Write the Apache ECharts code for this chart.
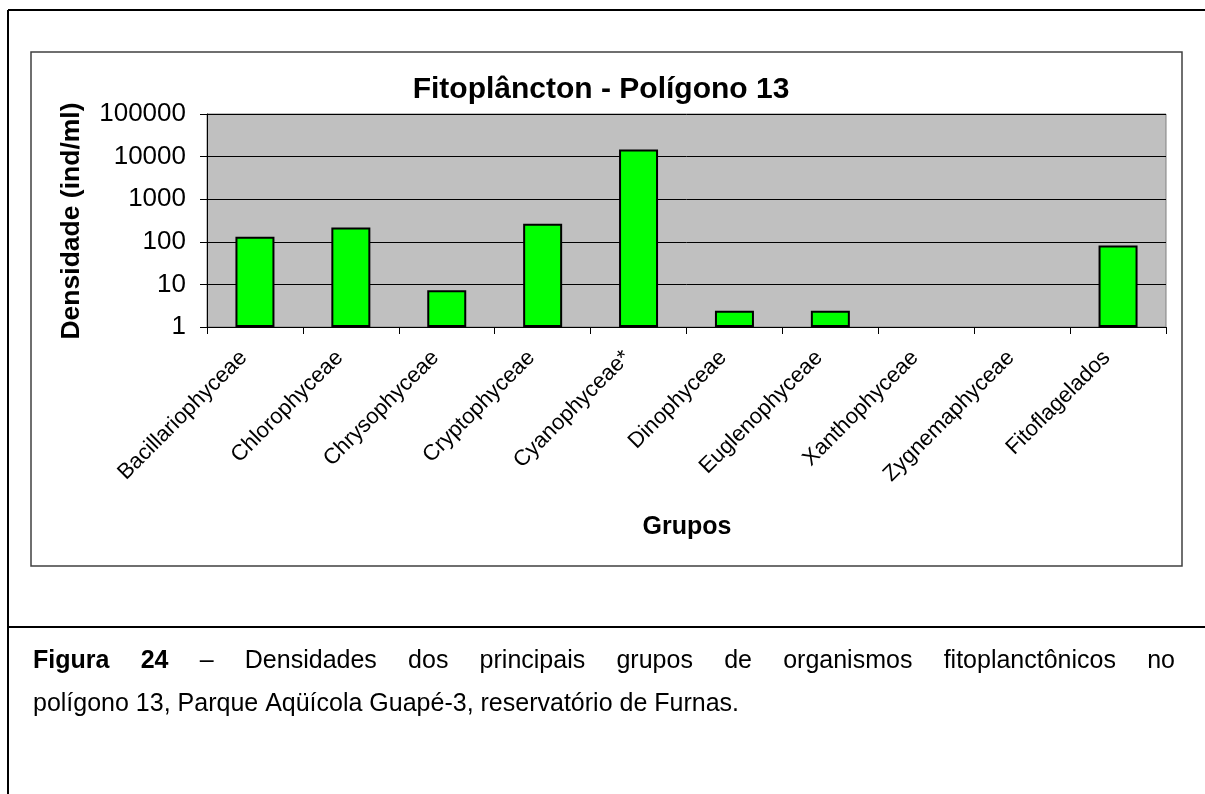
<!DOCTYPE html>
<html>
<head>
<meta charset="utf-8">
<script src="https://cdn.jsdelivr.net/npm/echarts@6/dist/echarts.min.js"></script>
<style>
html,body{margin:0;padding:0;background:#fff;}
#chart{width:1205px;height:794px;}
</style>
</head>
<body>
<div id="chart"></div>
<script>
var categories = ['Bacillariophyceae','Chlorophyceae','Chrysophyceae','Cryptophyceae','Cyanophyceae*','Dinophyceae','Euglenophyceae','Xanthophyceae','Zygnemaphyceae','Fitoflagelados'];
var densidade = [131, 217, 7.3, 265, 14600, 2.4, 2.4, null, null, 82];
var yTicks = [1, 10, 100, 1000, 10000, 100000];
var chartTitle = 'Fitoplâncton - Polígono 13';
var yName = 'Densidade (ind/ml)';
var xName = 'Grupos';
var captionBold = 'Figura 24';
var captionLine1 = '– Densidades dos principais grupos de organismos fitoplanctônicos no';
var captionLine2 = 'polígono 13, Parque Aqüícola Guapé-3, reservatório de Furnas.';

var FONT = '"Liberation Sans", Arial, sans-serif';
var CAP_FS = 25;

// justified first caption line (layout only)
function buildCaption() {
  var cv = document.createElement('canvas').getContext('2d');
  var words = [];
  captionBold.split(' ').forEach(function(w){ words.push({t:w, f:'bold '+CAP_FS+'px '+FONT}); });
  captionLine1.split(' ').forEach(function(w){ words.push({t:w, f:CAP_FS+'px '+FONT}); });
  var total = 0;
  words.forEach(function(w){ cv.font = w.f; w.w = cv.measureText(w.t).width; total += w.w; });
  var left = 33, right = 1175;
  var gap = (right - left - total) / (words.length - 1);
  var x = left, els = [];
  words.forEach(function(w){
    els.push({type:'text', x:x, y:661, style:{text:w.t, font:w.f, fill:'#000', textVerticalAlign:'middle'}});
    x += w.w + gap;
  });
  els.push({type:'text', x:33, y:704, style:{text:captionLine2, font:CAP_FS+'px '+FONT, fill:'#000', textVerticalAlign:'middle'}});
  return els;
}

var chart = echarts.init(document.getElementById('chart'), null, {renderer:'canvas'});
chart.setOption({
  backgroundColor:'#ffffff',
  animation:false,
  textStyle:{fontFamily:FONT},
  grid:{left:207, right:39, top:114, bottom:467, show:true, backgroundColor:'#c0c0c0', borderColor:'#808080', borderWidth:1},
  xAxis:{
    type:'category', data:categories,
    axisLine:{show:true, lineStyle:{color:'#000', width:1}},
    axisTick:{show:true, length:7, lineStyle:{color:'#000'}, alignWithLabel:false},
    axisLabel:{rotate:45, fontSize:22, color:'#000', fontFamily:FONT, margin:16, padding:[0,16,0,0], interval:0},
    splitLine:{show:false}
  },
  yAxis:{
    type:'log', logBase:10, min:1, max:100000,
    axisLine:{show:true, lineStyle:{color:'#000', width:1}},
    axisTick:{show:true, length:7, inside:false, lineStyle:{color:'#000'}},
    axisLabel:{fontSize:26, color:'#000', fontFamily:FONT, margin:21,
      formatter:function(v){ return String(Math.round(v)); }},
    splitLine:{show:true, lineStyle:{color:'#000', width:1}},
    minorTick:{show:false}
  },
  series:[{
    type:'bar', data:densidade, barWidth:39,
    itemStyle:{color:'#00ff00', borderColor:'#000', borderWidth:2}
  }],
  graphic:[
    {type:'line', shape:{x1:8,y1:10,x2:1205,y2:10}, style:{stroke:'#000', lineWidth:2}},
    {type:'line', shape:{x1:8,y1:10,x2:8,y2:794}, style:{stroke:'#000', lineWidth:2}},
    {type:'line', shape:{x1:8,y1:627,x2:1205,y2:627}, style:{stroke:'#000', lineWidth:2}},
    {type:'rect', shape:{x:31,y:52,width:1151,height:514}, style:{fill:null, stroke:'#404040', lineWidth:1.5}},
    {type:'text', x:601, y:90, style:{text:chartTitle, font:'bold 30px '+FONT, fill:'#000', textAlign:'center', textVerticalAlign:'middle'}},
    {type:'text', x:72, y:221, rotation:Math.PI/2, style:{text:yName, font:'bold 26.5px '+FONT, fill:'#000', textAlign:'center', textVerticalAlign:'middle'}},
    {type:'text', x:687, y:527, style:{text:xName, font:'bold 25px '+FONT, fill:'#000', textAlign:'center', textVerticalAlign:'middle'}}
  ].concat(buildCaption())
});
</script>
</body>
</html>
